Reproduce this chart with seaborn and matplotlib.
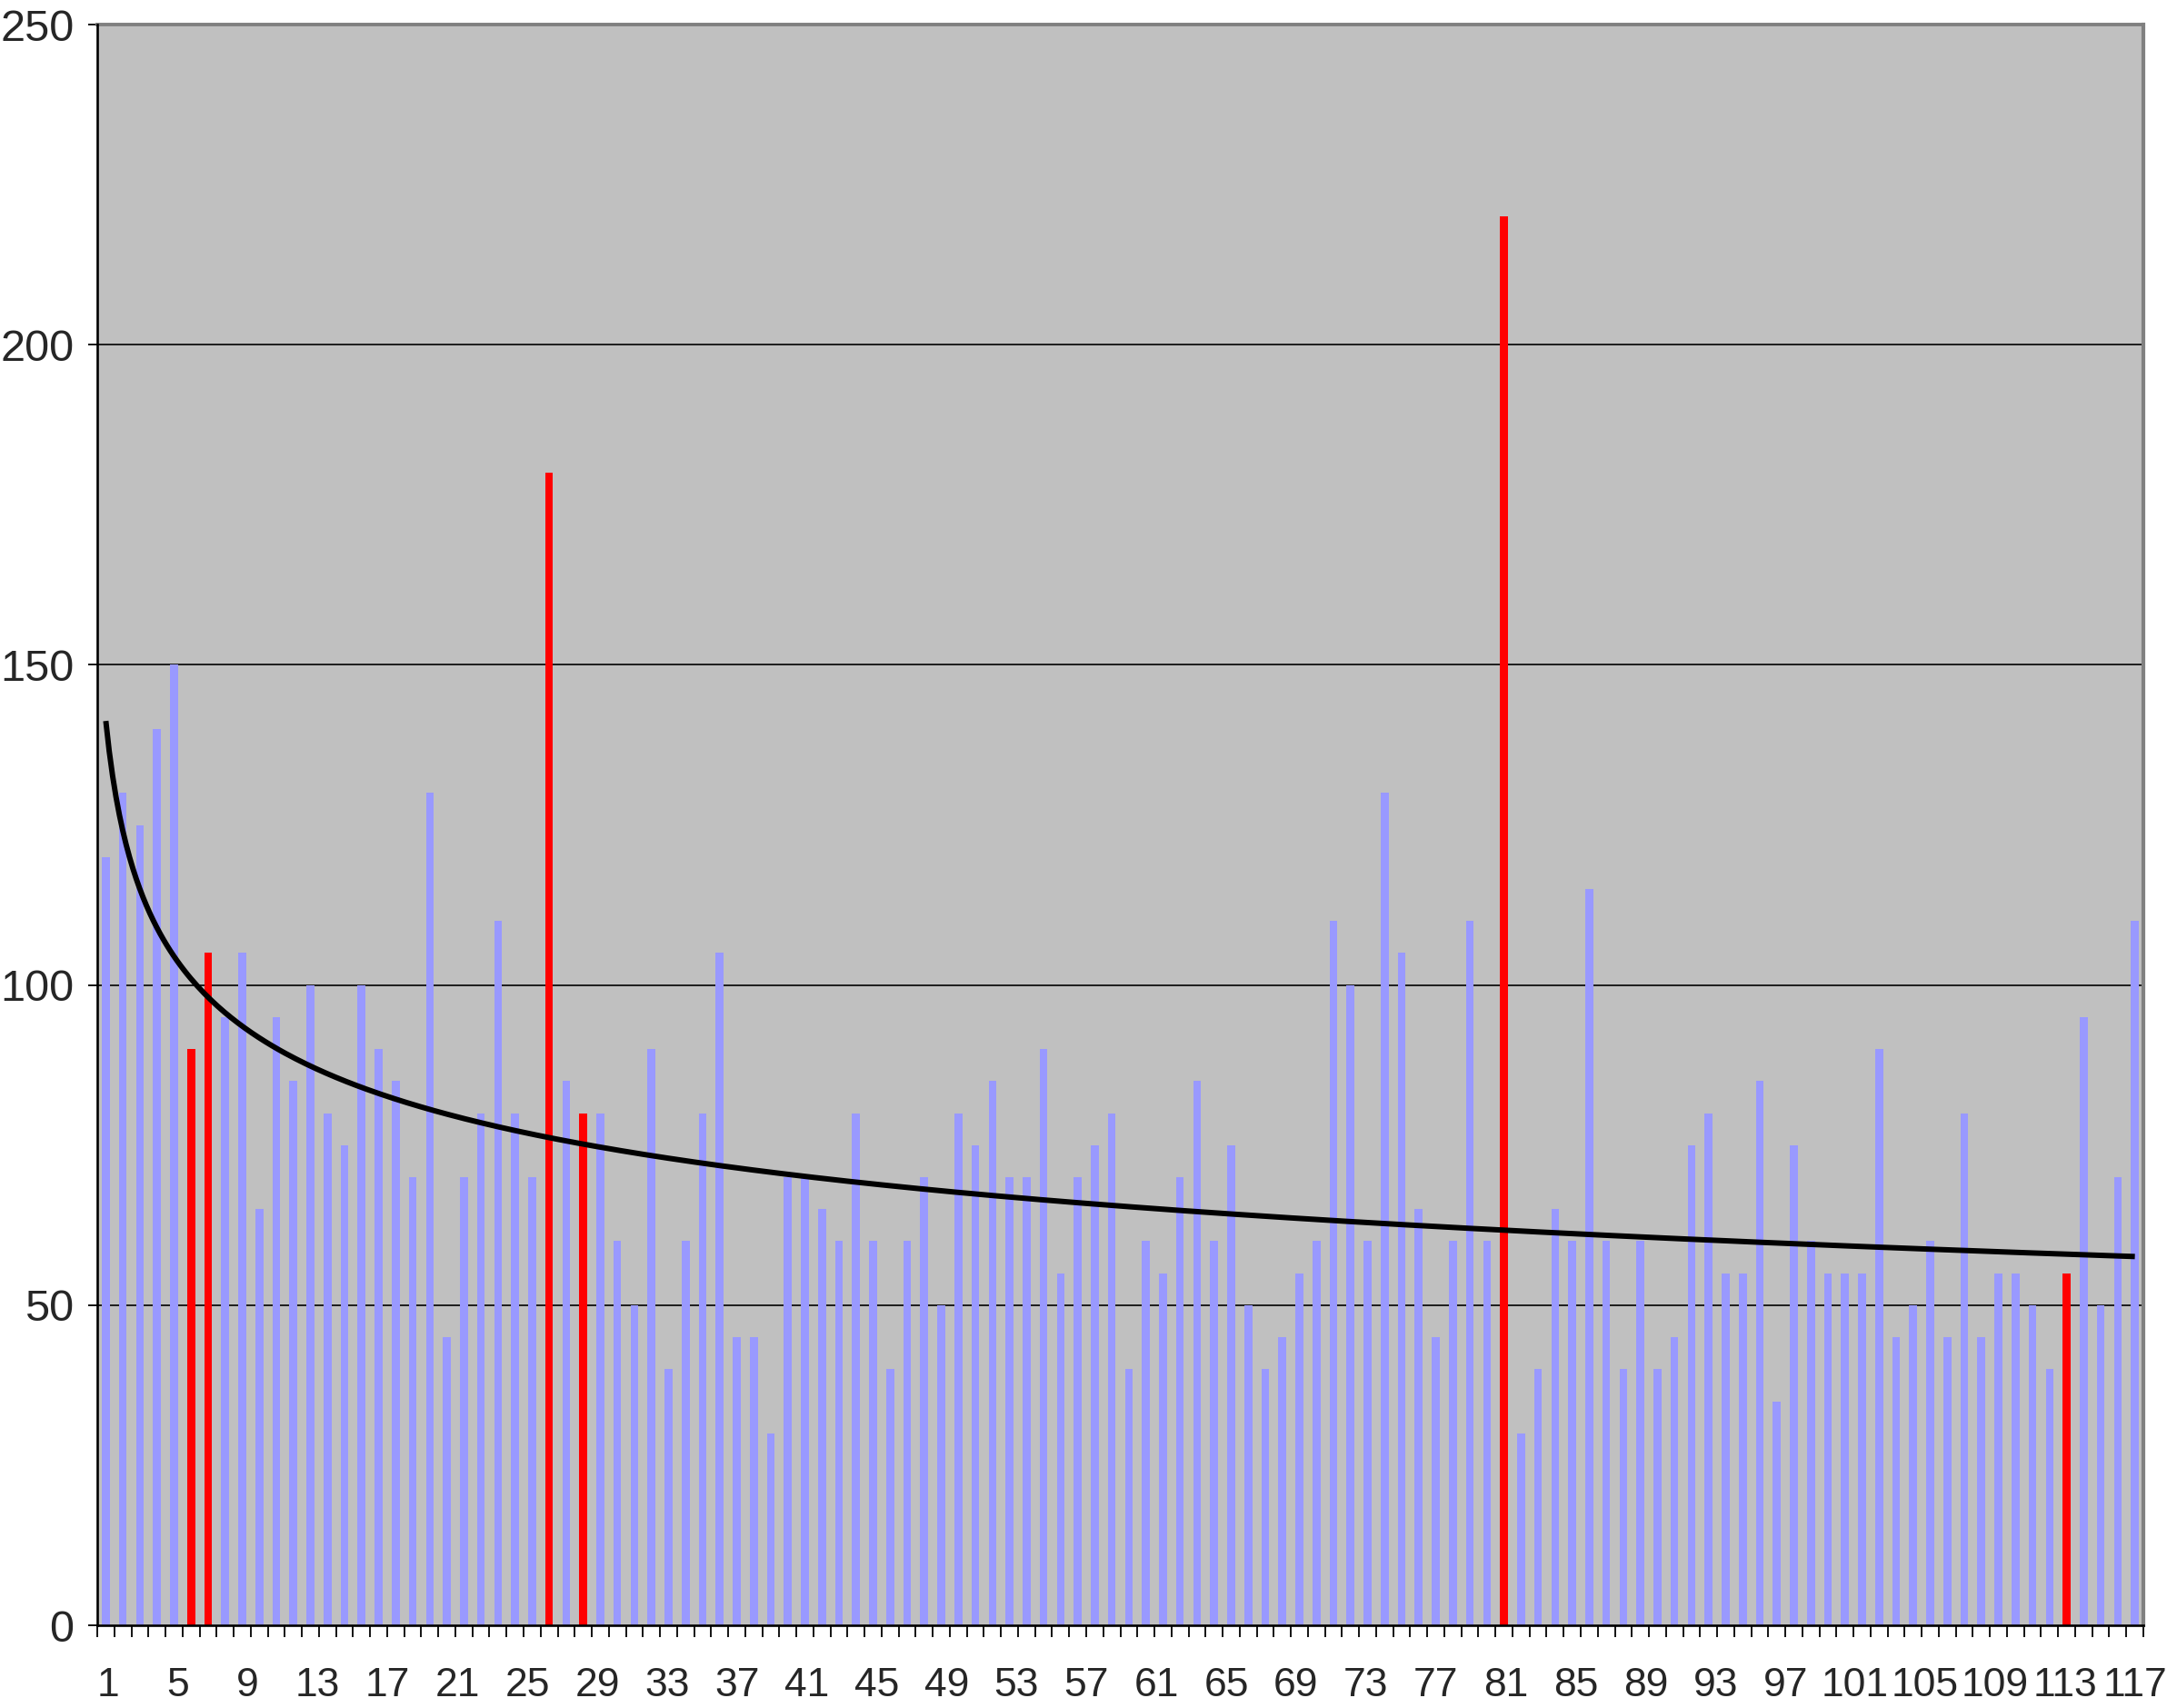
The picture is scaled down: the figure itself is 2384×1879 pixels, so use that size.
import numpy as np
import pandas as pd
import matplotlib
matplotlib.use("Agg")
import matplotlib.pyplot as plt
import seaborn as sns

WIDTH = 23.84
HEIGHT = 18.79

# bar heights, categories 1..120
values = [120, 130, 125, 140, 150, 90, 105, 95, 105, 65,
          95, 85, 100, 80, 75, 100, 90, 85, 70, 130,
          45, 70, 80, 110, 80, 70, 180, 85, 80, 80,
          60, 50, 90, 40, 60, 80, 105, 45, 45, 30,
          70, 70, 65, 60, 80, 60, 40, 60, 70, 50,
          80, 75, 85, 70, 70, 90, 55, 70, 75, 80,
          40, 60, 55, 70, 85, 60, 75, 50, 40, 45,
          55, 60, 110, 100, 60, 130, 105, 65, 45, 60,
          110, 60, 220, 30, 40, 65, 60, 115, 60, 40,
          60, 40, 45, 75, 80, 55, 55, 85, 35, 75,
          60, 55, 55, 55, 90, 45, 50, 60, 45, 80,
          45, 55, 55, 50, 40, 55, 95, 50, 70, 110]

# bars drawn in red
highlighted = [6, 7, 27, 29, 83, 116]

# axis labels shown under the bars
x_labels = [str(k) for k in range(1, 118, 4)]
y_ticks = [0, 50, 100, 150, 200, 250]

BLUE = "#9999FF"
RED = "#FF0000"
PLOT_BG = "#C0C0C0"

df = pd.DataFrame({"cat": np.arange(1, len(values) + 1), "value": values})
df["flag"] = df["cat"].isin(highlighted)

# power trendline fitted like a spreadsheet does (ln y on ln x)
slope, intercept = np.polyfit(np.log(df["cat"]), np.log(df["value"]), 1)
trend_x = np.linspace(1, len(values), 600)
trend_y = np.exp(intercept) * trend_x ** slope

sns.set_theme(style="ticks")
plt.rcParams["font.family"] = ["Liberation Sans", "DejaVu Sans"]

fig = plt.figure(figsize=[WIDTH, HEIGHT], dpi=100)
ax = fig.add_axes([0.0449, 0.0484, 0.9442, 0.9372])
ax.set_facecolor(PLOT_BG)

sns.barplot(data=df, x="cat", y="value", hue="flag", palette={False: BLUE, True: RED},
            dodge=False, width=0.46, legend=False, saturation=1, linewidth=0,
            ax=ax, zorder=2)
# categorical axis puts category 1 at position 0
ax.plot(trend_x - 1, trend_y, color="black", linewidth=4.3, zorder=4,
        solid_capstyle="butt")

# horizontal grid lines
for y in y_ticks[1:-1]:
    ax.axhline(y, color="black", linewidth=1.2, zorder=1)

ax.set_xlim(-0.5, len(values) - 0.5)
ax.set_ylim(0, 250)
ax.set_yticks(y_ticks)
ax.set_yticklabels([str(v) for v in y_ticks])

# tick marks between categories, labels spread along the axis
label_pos = np.linspace(0.13, 119.0, len(x_labels))
ax.set_xticks(np.arange(-0.5, len(values), 1.0), minor=True)
ax.set_xticks(label_pos)
ax.set_xticklabels(x_labels)
ax.tick_params(axis="x", which="major", length=0, pad=33, labelsize=32)
ax.tick_params(axis="x", which="minor", length=9.5, width=1.3, color="black", direction="out")
ax.tick_params(axis="y", length=7.5, width=1.3, color="black", labelsize=35, pad=11)
ax.set_xlabel("")
ax.set_ylabel("")

for side in ["left", "bottom"]:
    ax.spines[side].set_color("black")
    ax.spines[side].set_linewidth(1.9)
    ax.spines[side].set_zorder(5)
ax.spines["top"].set_visible(True)
ax.spines["right"].set_visible(True)
ax.spines["top"].set_color("#808080")
ax.spines["right"].set_color("#808080")
ax.spines["top"].set_linewidth(2.8)
ax.spines["right"].set_linewidth(3)

fig.savefig("out.png", dpi=100, facecolor="white")
